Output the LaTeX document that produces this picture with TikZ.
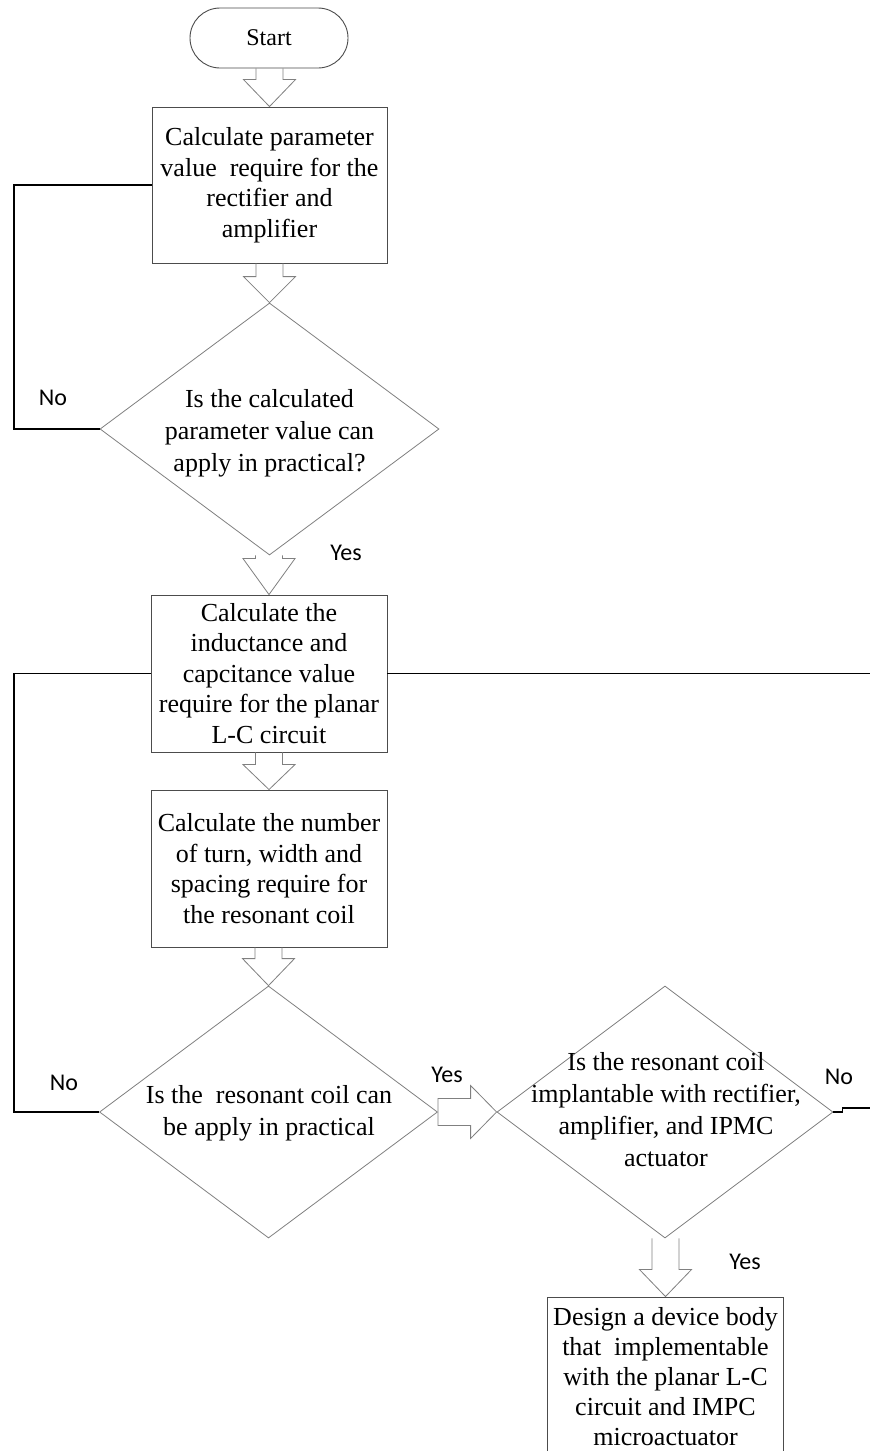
\documentclass[tikz,border=0pt]{standalone}
\usepackage{fontspec}
\setmainfont{Liberation Serif}
\newfontfamily\labfont{Carlito}
\usetikzlibrary{shapes.geometric,calc}
\definecolor{boxline}{gray}{0.30}
\definecolor{dialine}{gray}{0.50}
\definecolor{arrline}{gray}{0.50}
\newcommand{\vblock}[3]{\draw[blk] let \p1=(#1), \p2=(#2) in
  (\x2-13.5pt,\y1) -- (\x2-13.5pt,\y2+#3) -- (\x2-26pt,\y2+#3) -- (\x2,\y2)
  -- (\x2+26pt,\y2+#3) -- (\x2+13.5pt,\y2+#3) -- (\x2+13.5pt,\y1);}
\newcommand{\hblock}[3]{\draw[blk] let \p1=(#1), \p2=(#2) in
  (\x1,\y2+13.5pt) -- (\x2-#3,\y2+13.5pt) -- (\x2-#3,\y2+26.5pt) -- (\x2,\y2)
  -- (\x2-#3,\y2-26.5pt) -- (\x2-#3,\y2-13.5pt) -- (\x1,\y2-13.5pt) -- cycle;}
\begin{document}
\begin{tikzpicture}[x=1pt,y=-1pt,
  procbox/.style={draw=boxline,line width=0.9pt,rectangle,inner sep=0pt,align=center,
    font=\fontsize{26}{30.5}\selectfont},
  termbox/.style={draw=boxline,line width=0.9pt,rectangle,rounded corners=30pt,inner sep=0pt,
    minimum width=158pt,minimum height=60pt,font=\fontsize{24}{28}\selectfont},
  decbox/.style={draw=dialine,line width=0.8pt,diamond,inner sep=0pt,minimum height=252pt},
  dectext/.style={inner sep=0pt,align=center,font=\fontsize{26}{32}\selectfont},
  blk/.style={draw=arrline,line width=0.8pt,line join=miter},
  fb/.style={draw=black,line width=1.4pt},
  lab/.style={inner sep=0pt,font=\labfont\fontsize{24}{28}\selectfont}]
\useasboundingbox (0,0) rectangle (870,1451);
\fill[white] (0,0) rectangle (870,1451);

\node[termbox] (start) at (269,38) {Start};
\node[procbox,minimum width=235pt,minimum height=156pt] (b1) at (269.5,185)
  {Calculate parameter\\value~ require for the\\rectifier and\\amplifier};
\node[decbox,minimum width=339pt] (d1) at (269.5,429) {};
\node[dectext] (d1t) at (269.5,433) {Is the calculated\\parameter value can\\apply in practical?};
\node[procbox,minimum width=236pt,minimum height=157pt] (b2) at (269,673.5)
  {Calculate the\\inductance and\\capcitance value\\require for the planar\\L-C circuit};
\node[procbox,minimum width=236pt,minimum height=157pt] (b3) at (269,868.5)
  {Calculate the number\\of turn, width and\\spacing require for\\the resonant coil};
\node[decbox,minimum width=338pt] (d2) at (268.5,1112) {};
\node[dectext] (d2t) at (269,1113) {Is the~ resonant coil can\\be apply in practical};
\node[decbox,minimum width=336pt] (d3) at (665,1112) {};
\node[dectext] (d3t) at (666,1110) {Is the resonant coil\\implantable with rectifier,\\amplifier, and IPMC\\actuator};
\node[procbox,minimum width=236pt,minimum height=160pt,font=\fontsize{26}{30}\selectfont] (b4) at (665.5,1377)
  {Design a device body\\that~ implementable\\with the planar L-C\\circuit and IMPC\\microactuator};

% block arrows
\vblock{start.south}{b1.north}{27pt}
\vblock{b1.south}{d1.north}{26pt}
\vblock{d1.south}{b2.north}{36pt}
\vblock{b2.south}{b3.north}{25pt}
\vblock{b3.south}{d2.north}{27pt}
\hblock{d2.east}{d3.west}{26pt}
\vblock{d3.south}{b4.north}{27pt}

% feedback connectors
\coordinate (lx) at (14,0);
\draw[fb] (d1.west) -- (d1.west -| lx) |- (b1.west);
\draw[fb] (d2.west) -- (d2.west -| lx) |- (b2.west);
\draw[fb] (d3.east) -- ++(9,0) -- ++(0,-4) -- ++(30,0) |- (b2.east);

% labels
\node[lab] (no1) at (53,398) {No};
\node[lab] (yes1) at (346,553) {Yes};
\node[lab] (no2) at (64,1083) {No};
\node[lab] (yes2) at (447,1075) {Yes};
\node[lab] (no3) at (839,1077) {No};
\node[lab] (yes3) at (745,1262) {Yes};
\end{tikzpicture}
\end{document}
